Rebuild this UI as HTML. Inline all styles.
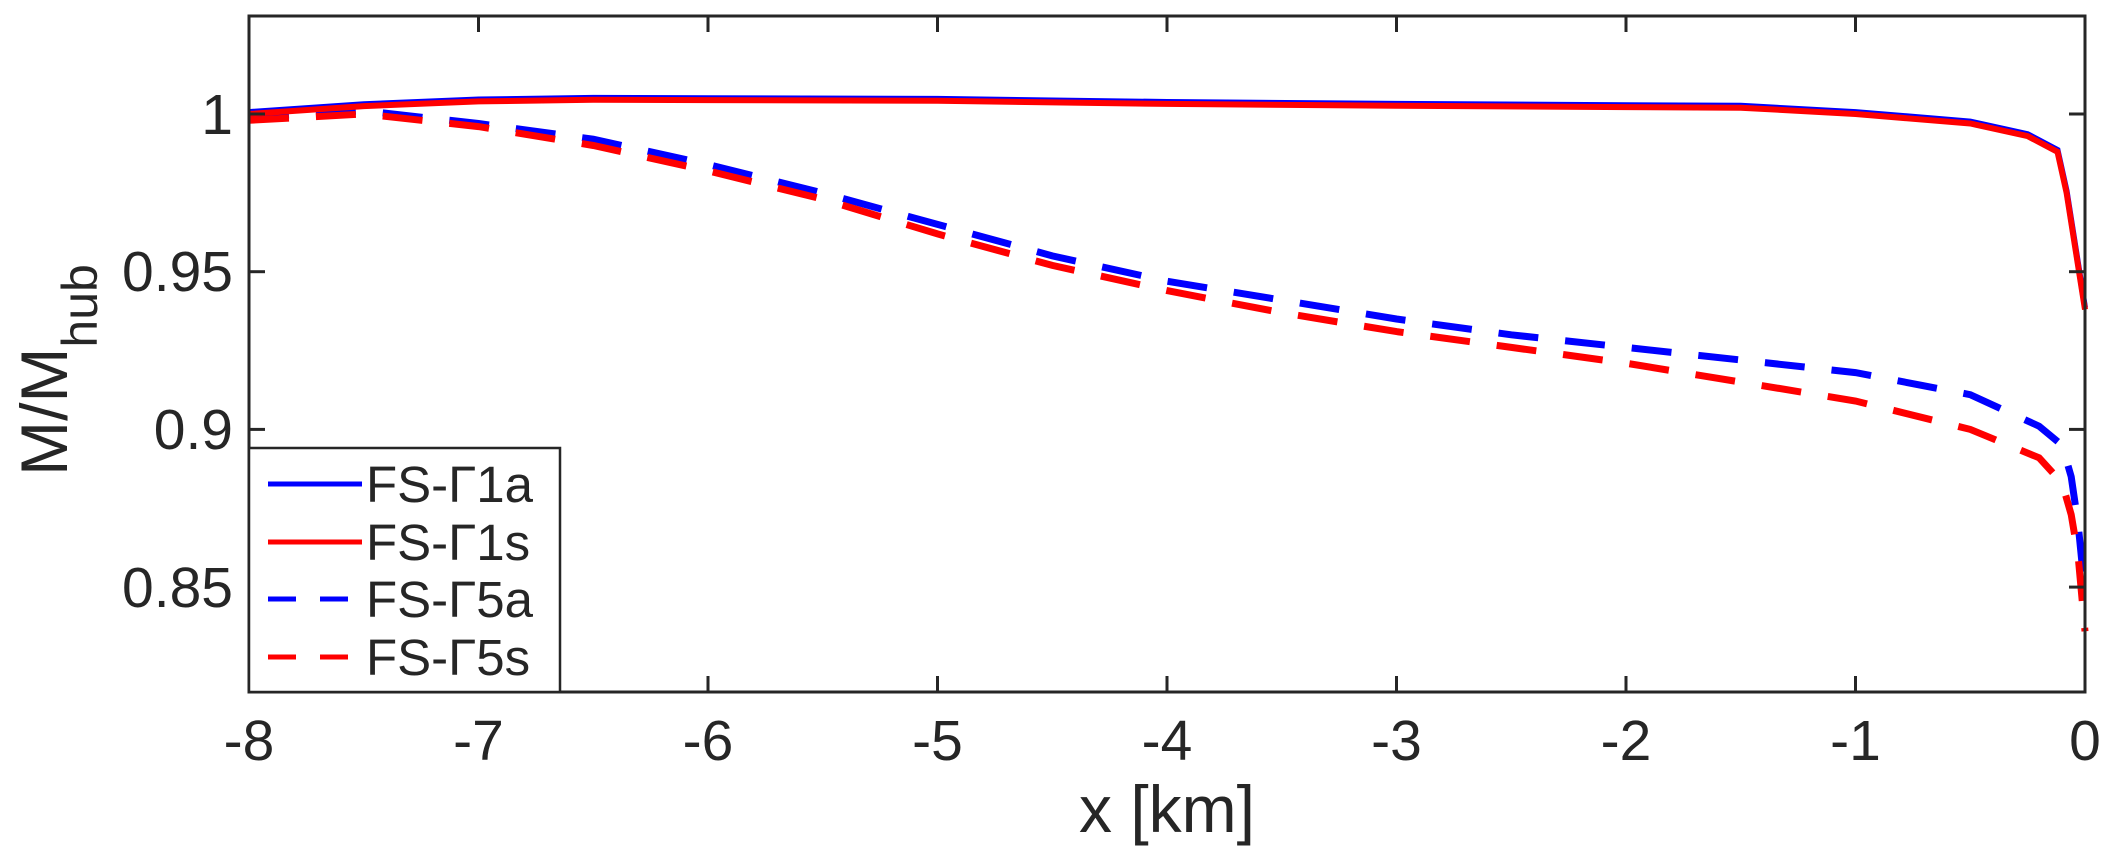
<!DOCTYPE html>
<html><head><meta charset="utf-8"><style>
html,body{margin:0;padding:0;background:#fff;}
svg{display:block;font-family:"Liberation Sans",Arial,sans-serif;}
</style></head><body>
<svg id="s" width="2108" height="860" xmlns="http://www.w3.org/2000/svg">
<rect x="0" y="0" width="2108" height="860" fill="#fff"/>
<g id="plot"></g>
<rect x="249" y="16" width="1836" height="676" fill="none" stroke="#262626" stroke-width="3"/>
<g id="ticks" stroke="#262626" stroke-width="3"></g>
<g font-size="57" fill="#262626" text-anchor="middle">
<text x="249" y="760">-8</text><text x="478.5" y="760">-7</text><text x="708" y="760">-6</text>
<text x="937.5" y="760">-5</text><text x="1167" y="760">-4</text><text x="1396.5" y="760">-3</text>
<text x="1626" y="760">-2</text><text x="1855.5" y="760">-1</text><text x="2085" y="760">0</text>
</g>
<g font-size="57" fill="#262626" text-anchor="end">
<text x="233" y="134">1</text><text x="233" y="291">0.95</text><text x="233" y="449">0.9</text><text x="233" y="607">0.85</text>
</g>
<text x="1167" y="832" font-size="66" fill="#262626" text-anchor="middle">x [km]</text>
<text transform="translate(67,370) rotate(-90)" font-size="66" fill="#262626" text-anchor="middle">M/M<tspan font-size="50" dy="30">hub</tspan></text>
<rect x="249" y="448" width="311" height="244" fill="#fff" stroke="#262626" stroke-width="2.5"/>
<line x1="268" y1="484" x2="362" y2="484" stroke="#0000ff" stroke-width="5"/>
<line x1="268" y1="542" x2="362" y2="542" stroke="#ff0000" stroke-width="5"/>
<line x1="268" y1="599" x2="362" y2="599" stroke="#0000ff" stroke-width="5" stroke-dasharray="28,24"/>
<line x1="268" y1="657" x2="362" y2="657" stroke="#ff0000" stroke-width="5" stroke-dasharray="28,24"/>
<g font-size="51" fill="#262626">
<text x="366" y="502">FS-Γ1a</text><text x="366" y="560">FS-Γ1s</text>
<text x="366" y="617">FS-Γ5a</text><text x="366" y="675">FS-Γ5s</text>
</g>
</svg>
<script>
var X=function(x){return 249+(x+8)*229.5;},Y=function(y){return 114+(1-y)/0.05*157.7;};
var t=document.getElementById('ticks'),h='';
for(var i=0;i<=8;i++){var x=X(-8+i);h+='<line x1="'+x+'" y1="692" x2="'+x+'" y2="676"/><line x1="'+x+'" y1="16" x2="'+x+'" y2="32"/>';}
[1,0.95,0.9,0.85].forEach(function(v){var y=Y(v);h+='<line x1="249" y1="'+y+'" x2="265" y2="'+y+'"/><line x1="2085" y1="'+y+'" x2="2069" y2="'+y+'"/>';});
t.innerHTML=h;
var S=[[-8,1.0],[-7.5,1.0025],[-7,1.004],[-6.5,1.0045],[-6,1.0044],[-5,1.0042],[-4,1.0032],[-3,1.0026],[-2,1.0022],[-1.5,1.002],[-1,1.0],[-0.5,0.997],[-0.25,0.993],[-0.12,0.988],[-0.08,0.975],[0,0.938]];
var B=[[-8,0.999],[-7.5,1.001],[-7,0.997],[-6.5,0.992],[-6,0.984],[-5.5,0.975],[-5,0.965],[-4.5,0.955],[-4,0.947],[-3.5,0.941],[-3,0.935],[-2.5,0.93],[-2,0.926],[-1.5,0.922],[-1,0.918],[-0.5,0.911],[-0.2,0.901],[-0.1,0.895],[-0.06,0.885],[-0.03,0.87],[0,0.848]];
var R=[[-8,0.998],[-7.5,1.0],[-7,0.996],[-6.5,0.99],[-6,0.982],[-5.5,0.973],[-5,0.962],[-4.5,0.952],[-4,0.944],[-3.5,0.937],[-3,0.931],[-2.5,0.926],[-2,0.921],[-1.5,0.915],[-1,0.909],[-0.5,0.9],[-0.2,0.891],[-0.1,0.883],[-0.06,0.873],[-0.03,0.86],[0,0.836]];
function P(d){return d.map(function(p){return X(p[0]).toFixed(1)+','+Y(p[1]).toFixed(1);}).join(' ');}
document.getElementById('plot').innerHTML=
'<polyline points="'+P(B)+'" fill="none" stroke="#0000ff" stroke-width="7" stroke-dasharray="40,27"/>'+
'<polyline points="'+P(R)+'" fill="none" stroke="#ff0000" stroke-width="7" stroke-dasharray="40,27"/>'+
'<polyline points="'+P(S.map(function(p){return [p[0],p[1]+0.0006];}))+'" fill="none" stroke="#0000ff" stroke-width="6"/>'+
'<polyline points="'+P(S)+'" fill="none" stroke="#ff0000" stroke-width="6"/>';
</script>
</body></html>
